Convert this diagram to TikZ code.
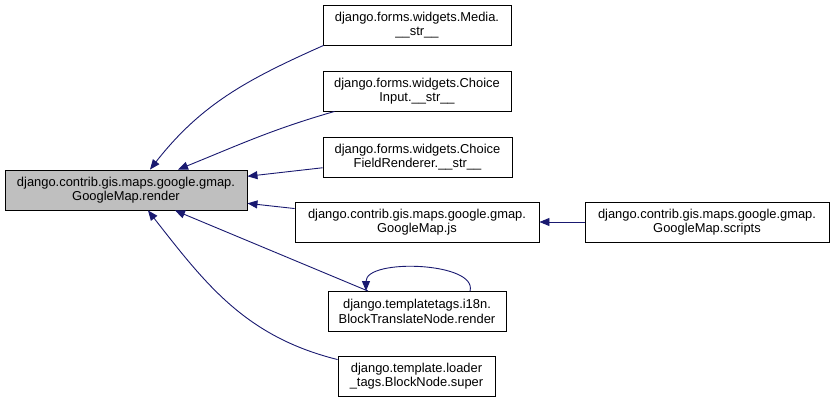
\documentclass[tikz,border=0pt]{standalone}
\usepackage{fontspec}
\setmainfont{Liberation Sans}
\usepackage{xcolor}
\usepackage{tikz}
\usetikzlibrary{arrows.meta}
\definecolor{edgeblue}{RGB}{25, 25, 112}
\definecolor{rootgray}{RGB}{191, 191, 191}

\begin{document}
\begin{tikzpicture}[x=1pt, y=-1pt,
    fn/.style={rectangle, draw=black, line width=0.9pt, fill=white,
               minimum height=40pt, inner sep=0pt, align=center,
               font=\fontsize{12.9}{14.5}\selectfont},
    rootfn/.style={fn, fill=rootgray},
    arr/.style={-{Triangle[length=10pt, width=8pt]}, line width=0.9pt,
                color=edgeblue}]

    \useasboundingbox (0,0) rectangle (835,403);

    % Function being documented
    \node[rootfn, minimum width=242pt] (r0) at (126,190)
        {django.contrib.gis.maps.google.gmap.\\GoogleMap.render};

    % Callers
    \node[fn, minimum width=188pt] (c0) at (417,25)
        {django.forms.widgets.Media.\\\_\_str\_\_};
    \node[fn, minimum width=188pt] (c1) at (417,91)
        {django.forms.widgets.Choice\\Input.\_\_str\_\_};
    \node[fn, minimum width=189pt] (c2) at (417.5,157)
        {django.forms.widgets.Choice\\FieldRenderer.\_\_str\_\_};
    \node[fn, minimum width=244pt] (c3) at (417,222)
        {django.contrib.gis.maps.google.gmap.\\GoogleMap.js};
    \node[fn, minimum width=178pt] (c4) at (417,311.5)
        {django.templatetags.i18n.\\BlockTranslateNode.render};
    \node[fn, minimum width=157pt] (c5) at (416.5,376)
        {django.template.loader\\\_tags.BlockNode.super};

    % Caller of GoogleMap.js
    \node[fn, minimum width=244pt] (cc0) at (707,222)
        {django.contrib.gis.maps.google.gmap.\\GoogleMap.scripts};

    % Call arrows
    \draw[arr] ([xshift=1pt]c0.south west) to[out=204, in=52]
        ([xshift=24pt]r0.north);
    \draw[arr] ([xshift=12pt]c1.south west) to[out=196, in=22]
        ([xshift=52pt]r0.north);
    \draw[arr] (c2) -- (r0);
    \draw[arr] (c3) -- (r0);
    \draw[arr] (c4) -- (r0);
    \draw[arr] ([yshift=-4pt]c5.north west) to[out=166, in=-52]
        ([xshift=22pt]r0.south);
    \draw[arr] (cc0) -- (c3);

    % Recursive call
    \draw[arr] ([xshift=53pt]c4.north) .. controls +(8,-29) and +(0,-33)
        .. ([xshift=-51pt]c4.north);
\end{tikzpicture}
\end{document}
